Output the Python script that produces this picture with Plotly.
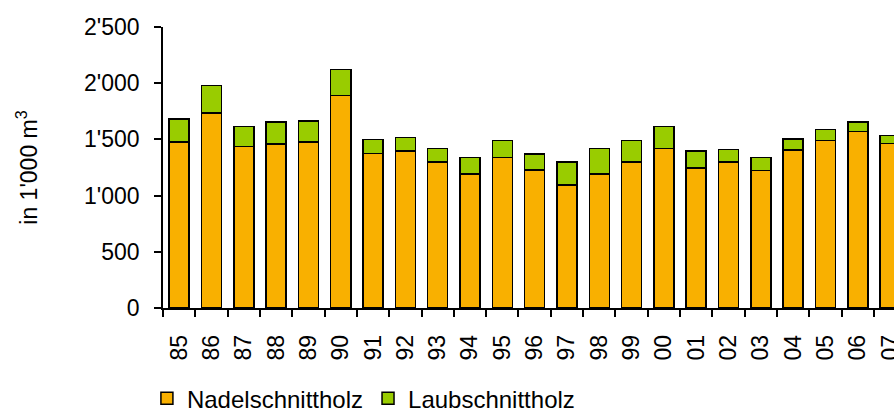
import plotly.graph_objects as go

# Sawn timber production, in 1'000 m3
years = ["85", "86", "87", "88", "89", "90", "91", "92", "93", "94", "95", "96",
         "97", "98", "99", "00", "01", "02", "03", "04", "05", "06", "07"]
nadelschnittholz = [1475, 1735, 1435, 1460, 1475, 1890, 1375, 1395, 1300, 1190, 1340, 1230,
                    1095, 1190, 1300, 1420, 1245, 1300, 1225, 1405, 1490, 1570, 1465]
laubschnittholz = [205, 245, 180, 195, 190, 230, 125, 120, 120, 150, 150, 140,
                   205, 230, 190, 195, 150, 110, 115, 100, 100, 85, 70]
y_ticks = [0, 500, 1000, 1500, 2000, 2500]

FONT = "Liberation Sans, Arial, sans-serif"
FS = 23

fig = go.Figure()
fig.add_trace(go.Bar(
    x=years, y=nadelschnittholz, name="Nadelschnittholz",
    marker=dict(color="#F9B000", line=dict(color="#000000", width=1.5)),
))
fig.add_trace(go.Bar(
    x=years, y=laubschnittholz, name="Laubschnittholz",
    marker=dict(color="#99CC00", line=dict(color="#000000", width=1.5)),
))

fig.update_layout(
    barmode="stack",
    bargap=0.38,
    width=894, height=413,
    margin=dict(l=163, r=0, t=27, b=105, pad=0, autoexpand=False),
    paper_bgcolor="white", plot_bgcolor="white",
    separators=".'",
    font=dict(family=FONT, size=FS, color="#000000"),
    showlegend=True,
    legend=dict(
        orientation="h", x=-0.022, xanchor="left",
        yref="container", y=0.035, yanchor="middle",
        font=dict(family=FONT, size=24, color="#000000"),
        traceorder="normal", itemwidth=30,
    ),
    xaxis=dict(
        type="category",
        range=[-0.5, 22.12],
        automargin=False,
        tickson="boundaries",
        ticks="outside", ticklen=7, tickwidth=1.5, tickcolor="#000000",
        tickangle=-90, ticklabelstandoff=16,
        showline=True, linecolor="#000000", linewidth=1.5,
        showgrid=False, zeroline=False,
        tickfont=dict(family=FONT, size=FS, color="#000000"),
    ),
    yaxis=dict(
        range=[0, 2500],
        automargin=False,
        tickvals=y_ticks,
        tickformat=",",
        ticks="outside", ticklen=7, tickwidth=1.5, tickcolor="#000000",
        ticklabelstandoff=10,
        showline=True, linecolor="#000000", linewidth=1.5,
        showgrid=False, zeroline=False,
        tickfont=dict(family=FONT, size=FS, color="#000000"),
        title=dict(text="in 1'000 m<sup>3</sup>", standoff=40,
                   font=dict(family=FONT, size=FS, color="#000000")),
    ),
)

fig.write_html("out.html")
